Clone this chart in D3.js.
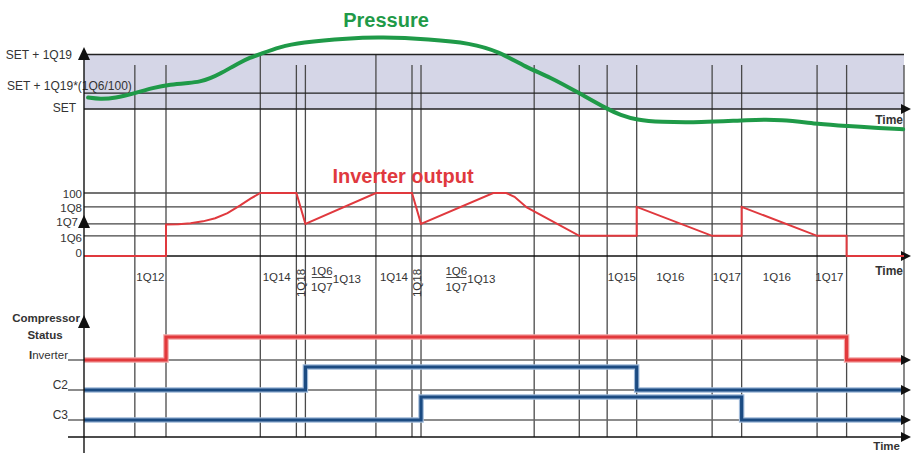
<!DOCTYPE html>
<html><head><meta charset="utf-8">
<script src="https://cdn.jsdelivr.net/npm/d3@7"></script>
<style>body{margin:0;background:#fff} svg{display:block} text{font-family:"Liberation Sans",Arial,sans-serif}</style>
</head><body><svg id="c" width="911" height="453"></svg>
<script>
// ---------- data ----------
const eventTimes = [6.2,10,21.5,25.9,27.0,35.6,40.0,41.1,54.9,60.4,63.8,67.4,76.6,80.2,89.4,93.0,100];
const eventTallTimes = [21.5,35.6];

const pressureLevelLabels = ["SET + 1Q19","SET + 1Q19*(1Q6/100)","SET"];
const pressureLevelValues = [1,0.29,0];
const pressureT = [0.5,1.95,3.8,6.2,8.4,10.5,12.9,14.1,15.4,16.6,17.8,19.0,20.2,21.5,23.9,26.3,32.4,36.1,42.2,47.1,50.7,53.8,56.8,60.4,63.8,65.4,67.4,70.2,75.1,81.2,84.9,89.8,93.0,97.1,99.9];
const pressureV = [0.21,0.18,0.20,0.29,0.39,0.45,0.48,0.50,0.56,0.65,0.75,0.85,0.94,1.01,1.14,1.22,1.30,1.32,1.28,1.21,1.05,0.77,0.59,0.29,0.0,-0.11,-0.20,-0.24,-0.25,-0.20,-0.19,-0.28,-0.31,-0.35,-0.37];

const inverterLevelLabels = ["100","1Q8","1Q7","1Q6","0"];
const inverterLevelValues = [100,78,51,32,0];
const inverterT = [0,10.0,10.0,11.5,13.0,14.5,16.0,17.5,19.0,20.3,21.5,25.9,27.0,35.6,40.0,41.1,49.9,51.5,52.5,54.0,60.4,67.4,67.4,76.6,80.2,80.2,89.4,93.0,93.0,100];
const inverterV = [0,0,50,50.5,52,55,60,68,80,91,100,100,51,100,100,51,100,100,94,77,32,32,78,32,32,78,32,32,0,0];

const compRows = ["Inverter","C2","C3"];
const compSwitchT = [[0,10.0,93.0,100],[0,27.0,67.4,100],[0,41.1,80.2,100]];
const compSwitchS = [[0,1,0,0],[0,1,0,0],[0,1,0,0]];

const phaseText = ["1Q12","1Q14","1Q18","1Q14","1Q18","1Q15","1Q16","1Q17","1Q16","1Q17"];
const phaseT = [8.1,23.5,26.45,37.8,40.55,65.6,71.5,78.4,84.5,90.9];
const phaseRotated = [0,0,1,0,1,0,0,0,0,0];
const fracT = [29.0,45.4];
const fracTop = "1Q6", fracBottom = "1Q7", fracAfter = "1Q13";

// ---------- scales ----------
const svg = d3.select("#c");
const x = d3.scaleLinear().domain([0,100]).range([84,904]);
const pY = d3.scaleLinear().domain([0,1]).range([109,54.5]);
const iY = d3.scaleLinear().domain([0,100]).range([256,193]);
const rowY = d3.scalePoint().domain(compRows).range([360,420]);
const stY = d3.scaleLinear().domain([0,1]).range([0,-23]);

const gridCol = "#4a4a4a", txtCol = "#333";
const arrowR = (xx,yy)=>`M${xx-3},${yy-5}L${xx+7},${yy}L${xx-3},${yy+5}Z`;
const arrowU = (xx,yy)=>`M${xx-6},${yy+13}L${xx},${yy}L${xx+6},${yy+13}Z`;

// ---------- pressure band ----------
svg.append("rect").attr("x",x(0)).attr("y",pY(1)).attr("width",x(100)-x(0)).attr("height",pY(0)-pY(1)).attr("fill","#d5d6e7");

// vertical event lines
svg.append("g").selectAll("line").data(eventTimes).join("line")
  .attr("x1",d=>x(d)).attr("x2",d=>x(d))
  .attr("y1",d=>eventTallTimes.includes(d)?pY(1):65).attr("y2",437)
  .attr("stroke",gridCol).attr("stroke-width",1.3);

// pressure level lines
svg.append("g").selectAll("line").data(pressureLevelValues).join("line")
  .attr("x1",x(0)).attr("x2",x(100)).attr("y1",d=>pY(d)).attr("y2",d=>pY(d))
  .attr("stroke","#222").attr("stroke-width",1.3);
svg.append("path").attr("d",arrowR(x(100),pY(0))).attr("fill","#111");

// pressure level labels
const pl = svg.append("g").attr("font-size",12).attr("fill",txtCol);
pl.append("text").attr("x",72).attr("y",pY(1)+4).attr("text-anchor","end").text(pressureLevelLabels[0]);
pl.append("text").attr("x",7).attr("y",pY(pressureLevelValues[1])-3).attr("text-anchor","start").text(pressureLevelLabels[1]);
pl.append("text").attr("x",76).attr("y",pY(0)+3).attr("text-anchor","end").text(pressureLevelLabels[2]);

// pressure curve
svg.append("path").datum(pressureT.map((t,i)=>[t,pressureV[i]]))
  .attr("d",d3.line().x(d=>x(d[0])).y(d=>pY(d[1])).curve(d3.curveBasis))
  .attr("fill","none").attr("stroke","#1f9a48").attr("stroke-width",4).attr("stroke-linecap","round");
svg.append("text").attr("x",386).attr("y",27).attr("text-anchor","middle").attr("font-size",20).attr("font-weight","bold").attr("fill","#1f9a48").text("Pressure");
svg.append("text").attr("x",903).attr("y",124).attr("text-anchor","end").attr("font-size",12).attr("font-weight","bold").attr("fill","#333").text("Time");

// ---------- inverter output ----------
const invLabelDy = [5,5,2,6,1];
svg.append("g").selectAll("line").data(inverterLevelValues).join("line")
  .attr("x1",x(0)).attr("x2",x(100)).attr("y1",d=>iY(d)).attr("y2",d=>iY(d))
  .attr("stroke",d=>d===0?"#111":"#444").attr("stroke-width",1.3);
svg.append("path").attr("d",arrowR(x(100),iY(0))).attr("fill","#111");
svg.append("g").selectAll("text").data(inverterLevelLabels).join("text")
  .attr("x",(d,i)=>i===2?78:82).attr("y",(d,i)=>iY(inverterLevelValues[i])+invLabelDy[i])
  .attr("text-anchor","end").attr("font-size",11.5).attr("fill",txtCol).text(d=>d);
svg.append("path").datum(inverterT.map((t,i)=>[t,inverterV[i]]))
  .attr("d",d3.line().x(d=>x(d[0])).y(d=>iY(d[1])))
  .attr("fill","none").attr("stroke","#e0393e").attr("stroke-width",2);
svg.append("text").attr("x",403).attr("y",183).attr("text-anchor","middle").attr("font-size",20).attr("font-weight","bold").attr("fill","#e0393e").text("Inverter output");
svg.append("text").attr("x",903).attr("y",275).attr("text-anchor","end").attr("font-size",12).attr("font-weight","bold").attr("fill","#333").text("Time");

// phase labels
const ph = svg.append("g").attr("font-size",11.5).attr("fill",txtCol);
phaseText.forEach((s,i)=>{
  if(phaseRotated[i]){
    ph.append("text").attr("transform",`translate(${x(phaseT[i])+4},283) rotate(-90)`).attr("text-anchor","middle").text(s);
  } else {
    ph.append("text").attr("x",x(phaseT[i])).attr("y",281).attr("text-anchor","middle").text(s);
  }
});
fracT.forEach(t=>{
  const cx = x(t);
  ph.append("text").attr("x",cx).attr("y",275).attr("text-anchor","middle").text(fracTop);
  ph.append("line").attr("x1",cx-10).attr("x2",cx+10).attr("y1",277.5).attr("y2",277.5).attr("stroke",txtCol).attr("stroke-width",0.9);
  ph.append("text").attr("x",cx).attr("y",291).attr("text-anchor","middle").text(fracBottom);
  ph.append("text").attr("x",cx+11).attr("y",283).attr("text-anchor","start").text(fracAfter);
});

// ---------- compressor status ----------
svg.append("g").selectAll("line").data(compRows).join("line")
  .attr("x1",68).attr("x2",x(100)).attr("y1",d=>rowY(d)).attr("y2",d=>rowY(d))
  .attr("stroke","#666").attr("stroke-width",1.3);
svg.append("line").attr("x1",68).attr("x2",x(100)).attr("y1",437).attr("y2",437).attr("stroke","#111").attr("stroke-width",1.3);
svg.append("path").attr("d",arrowR(x(100),437)).attr("fill","#111");

const stepLine = d3.line().curve(d3.curveStepAfter);
compRows.forEach((r,ri)=>{
  const pts = compSwitchT[ri].map((t,i)=>[x(t),rowY(r)+stY(compSwitchS[ri][i])]);
  const main = ri===0?"#e2393c":"#1b4b82", halo = ri===0?"#f2a5a5":"#9fb9d8";
  svg.append("path").attr("d",stepLine(pts)).attr("fill","none").attr("stroke",halo).attr("stroke-width",5.5);
  svg.append("path").attr("d",stepLine(pts)).attr("fill","none").attr("stroke",main).attr("stroke-width",3.2);
  svg.append("path").attr("d",arrowR(x(100),rowY(r))).attr("fill","#111");
});

const cl = svg.append("g").attr("fill",txtCol);
cl.append("text").attr("x",46).attr("y",322).attr("text-anchor","middle").attr("font-size",11.5).attr("font-weight","bold").text("Compressor");
cl.append("text").attr("x",45).attr("y",339).attr("text-anchor","middle").attr("font-size",11.5).attr("font-weight","bold").text("Status");
cl.append("text").attr("x",68).attr("y",rowY("Inverter")-1).attr("text-anchor","end").attr("font-size",11.5)
  .call(t=>{t.append("tspan").attr("font-weight","bold").text("I");t.append("tspan").text("nverter");});
cl.append("text").attr("x",68).attr("y",rowY("C2")-1).attr("text-anchor","end").attr("font-size",12).text("C2");
cl.append("text").attr("x",68).attr("y",rowY("C3")-1).attr("text-anchor","end").attr("font-size",12).text("C3");
svg.append("text").attr("x",900).attr("y",450).attr("text-anchor","end").attr("font-size",11.5).attr("font-weight","bold").attr("fill","#333").text("Time");

// ---------- main vertical axis ----------
svg.append("line").attr("x1",x(0)).attr("x2",x(0)).attr("y1",50).attr("y2",453).attr("stroke","#111").attr("stroke-width",1.4);
svg.append("path").attr("d",arrowU(x(0),47)).attr("fill","#111");
svg.append("path").attr("d",arrowU(x(0),215)).attr("fill","#111");
svg.append("path").attr("d",arrowU(x(0),315)).attr("fill","#111");
</script></body></html>
